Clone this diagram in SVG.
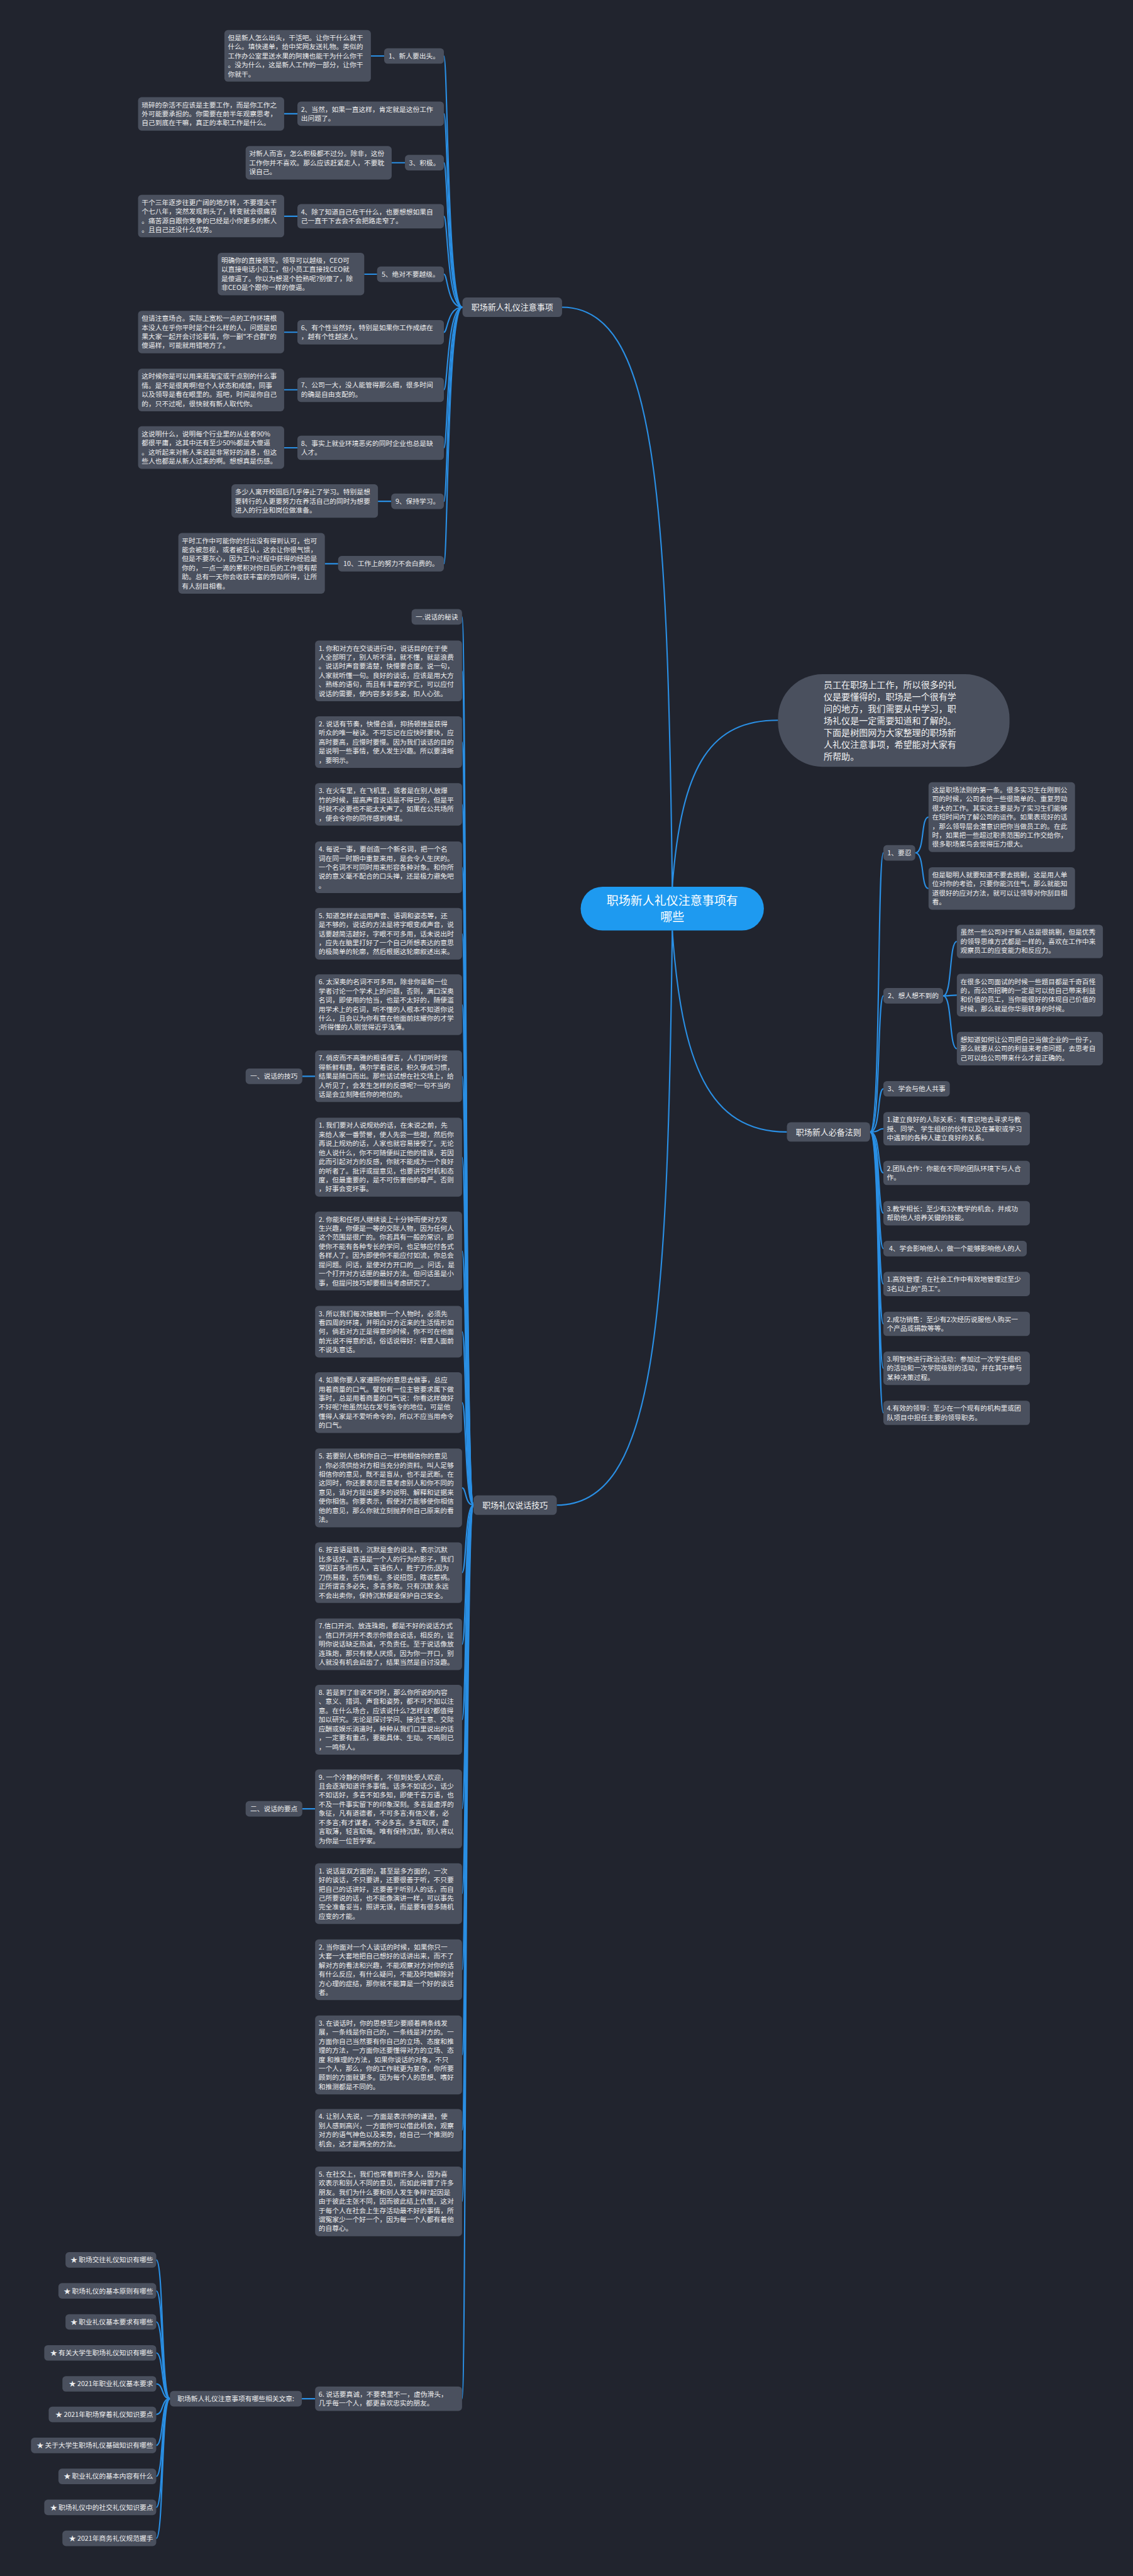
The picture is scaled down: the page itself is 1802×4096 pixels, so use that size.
<svg xmlns="http://www.w3.org/2000/svg" width="1802" height="4096" viewBox="0 0 1802 4096">
<defs>
<style>
.bg{fill:#21242e}
.b{fill:#4a505e}
.t{font-family:"Noto Sans CJK SC","Noto Sans",sans-serif;font-size:15.3px;fill:#eeeeee}
.m{text-anchor:middle}
.e{text-anchor:end}
.p{font-family:"Noto Sans CJK SC","Noto Sans",sans-serif;font-size:18.5px;fill:#f2f2f2;text-anchor:middle}
.c{fill:none;stroke:#2a8fe4;stroke-width:3}
</style>
</defs>
<rect class="bg" x="0" y="0" width="1802" height="4096"/>
<g transform="scale(0.7039)">
<g id="connectors">
<path class="c" d="M1519,2003 C1508,1100 1480,694 1270,694"/>
<path class="c" d="M1519,2003 C1540,1720 1610,1627 1758,1627"/>
<path class="c" d="M1519,2102 C1540,2400 1600,2557 1778,2557"/>
<path class="c" d="M1519,2102 C1508,3000 1480,3400 1258,3400"/>
<path class="c" d="M1045,694 C1010,694 1012,126.5 1003,126.5"/>
<path class="c" d="M1045,694 C1010,694 1012,257 1003,257"/>
<path class="c" d="M1045,694 C1010,694 1012,367.5 1003,367.5"/>
<path class="c" d="M1045,694 C1010,694 1012,488.5 1003,488.5"/>
<path class="c" d="M1045,694 C1010,694 1012,619.5 1003,619.5"/>
<path class="c" d="M1045,694 C1010,694 1012,750.5 1003,750.5"/>
<path class="c" d="M1045,694 C1010,694 1012,880.5 1003,880.5"/>
<path class="c" d="M1045,694 C1010,694 1012,1011.5 1003,1011.5"/>
<path class="c" d="M1045,694 C1010,694 1012,1132.5 1003,1132.5"/>
<path class="c" d="M1045,694 C1010,694 1012,1273.5 1003,1273.5"/>
<path class="c" d="M838,126.5 L868,126.5 M642,257 L672,257 M885,367.5 L915,367.5 M642,488.5 L672,488.5 M823,619.5 L852,619.5 M642,750.5 L672,750.5 M642,880.5 L672,880.5 M642,1011.5 L672,1011.5 M854,1132.5 L884,1132.5 M734,1273.5 L764,1273.5"/>
<path class="c" d="M1966,2557 C1990,2557 1982,1926.5 1996,1926.5"/>
<path class="c" d="M1966,2557 C1990,2557 1982,2249.5 1996,2249.5"/>
<path class="c" d="M1966,2557 C1990,2557 1982,2459.5 1996,2459.5"/>
<path class="c" d="M1966,2557 C1990,2557 1982,2549.75 1996,2549.75"/>
<path class="c" d="M1966,2557 C1990,2557 1982,2649.5 1996,2649.5"/>
<path class="c" d="M1966,2557 C1990,2557 1982,2740.5 1996,2740.5"/>
<path class="c" d="M1966,2557 C1990,2557 1982,2820.5 1996,2820.5"/>
<path class="c" d="M1966,2557 C1990,2557 1982,2900.5 1996,2900.5"/>
<path class="c" d="M1966,2557 C1990,2557 1982,2990.5 1996,2990.5"/>
<path class="c" d="M1966,2557 C1990,2557 1982,3090.75 1996,3090.75"/>
<path class="c" d="M1966,2557 C1990,2557 1982,3191.5 1996,3191.5"/>
<path class="c" d="M2068,1926.5 C2090,1926.5 2080,1845.75 2098,1845.75"/>
<path class="c" d="M2068,1926.5 C2090,1926.5 2080,2007 2098,2007"/>
<path class="c" d="M2131,2249.5 C2152,2249.5 2144,2126.75 2162,2126.75"/>
<path class="c" d="M2131,2249.5 C2152,2249.5 2144,2248 2162,2248"/>
<path class="c" d="M2131,2249.5 C2152,2249.5 2144,2368.75 2162,2368.75"/>
<path class="c" d="M1070,3400 C1050,3400 1054,1393.5 1044,1393.5"/>
<path class="c" d="M1070,3400 C1050,3400 1054,1515.5 1044,1515.5"/>
<path class="c" d="M1070,3400 C1050,3400 1054,1676.25 1044,1676.25"/>
<path class="c" d="M1070,3400 C1050,3400 1054,1817 1044,1817"/>
<path class="c" d="M1070,3400 C1050,3400 1054,1959.25 1044,1959.25"/>
<path class="c" d="M1070,3400 C1050,3400 1054,2109.25 1044,2109.25"/>
<path class="c" d="M1070,3400 C1050,3400 1054,2269.5 1044,2269.5"/>
<path class="c" d="M1070,3400 C1050,3400 1054,2431.25 1044,2431.25"/>
<path class="c" d="M1070,3400 C1050,3400 1054,2614 1044,2614"/>
<path class="c" d="M1070,3400 C1050,3400 1054,2826 1044,2826"/>
<path class="c" d="M1070,3400 C1050,3400 1054,3008.25 1044,3008.25"/>
<path class="c" d="M1070,3400 C1050,3400 1054,3168.5 1044,3168.5"/>
<path class="c" d="M1070,3400 C1050,3400 1054,3361 1044,3361"/>
<path class="c" d="M1070,3400 C1050,3400 1054,3552.5 1044,3552.5"/>
<path class="c" d="M1070,3400 C1050,3400 1054,3714.25 1044,3714.25"/>
<path class="c" d="M1070,3400 C1050,3400 1054,3884.75 1044,3884.75"/>
<path class="c" d="M1070,3400 C1050,3400 1054,4086 1044,4086"/>
<path class="c" d="M1070,3400 C1050,3400 1054,4277.5 1044,4277.5"/>
<path class="c" d="M1070,3400 C1050,3400 1054,4449.5 1044,4449.5"/>
<path class="c" d="M1070,3400 C1050,3400 1054,4642 1044,4642"/>
<path class="c" d="M1070,3400 C1050,3400 1054,4812 1044,4812"/>
<path class="c" d="M1070,3400 C1050,3400 1054,4972.75 1044,4972.75"/>
<path class="c" d="M1070,3400 C1050,3400 1054,5418.5 1044,5418.5"/>
<path class="c" d="M683,2431.25 L712,2431.25 M683,4086 L712,4086 M682,5418.5 L712,5418.5"/>
<path class="c" d="M384,5418.5 C364,5418.5 370,5105 353,5105"/>
<path class="c" d="M384,5418.5 C364,5418.5 370,5175 353,5175"/>
<path class="c" d="M384,5418.5 C364,5418.5 370,5245 353,5245"/>
<path class="c" d="M384,5418.5 C364,5418.5 370,5315 353,5315"/>
<path class="c" d="M384,5418.5 C364,5418.5 370,5385 353,5385"/>
<path class="c" d="M384,5418.5 C364,5418.5 370,5454 353,5454"/>
<path class="c" d="M384,5418.5 C364,5418.5 370,5524 353,5524"/>
<path class="c" d="M384,5418.5 C364,5418.5 370,5594 353,5594"/>
<path class="c" d="M384,5418.5 C364,5418.5 370,5664 353,5664"/>
<path class="c" d="M384,5418.5 C364,5418.5 370,5734 353,5734"/>
</g>

<g id="n-root"><rect x="1312" y="2003" width="414" height="99" rx="49.5" fill="#1e9af0"/><text x="1519" y="2044" font-family="Noto Sans CJK SC, Noto Sans, sans-serif" font-size="27" fill="#ffffff" text-anchor="middle"><tspan x="1519" y="2044">职场新人礼仪注意事项有</tspan><tspan x="1519" y="2081">哪些</tspan></text></g>

<g id="n-intro"><rect class="b" x="1758" y="1523" width="523" height="209" rx="100"/><text x="1861" y="1553.5" font-family="Noto Sans CJK SC, Noto Sans, sans-serif" font-size="20" fill="#f2f2f2"><tspan x="1861" y="1553.5">员工在职场上工作，所以很多的礼</tspan><tspan x="1861" dy="27.2">仪是要懂得的，职场是一个很有学</tspan><tspan x="1861" dy="27.2">问的地方，我们需要从中学习，职</tspan><tspan x="1861" dy="27.2">场礼仪是一定需要知道和了解的。</tspan><tspan x="1861" dy="27.2">下面是树图网为大家整理的职场新</tspan><tspan x="1861" dy="27.2">人礼仪注意事项，希望能对大家有</tspan><tspan x="1861" dy="27.2">所帮助。</tspan></text></g>

<g id="n-top"><rect class="b" x="1045" y="672" width="225" height="44" rx="9"/><text class="p" x="1157.5" y="701">职场新人礼仪注意事项</text></g>
<g id="n-talk"><rect class="b" x="1070" y="3378" width="188" height="44" rx="9"/><text class="p" x="1164" y="3407">职场礼仪说话技巧</text></g>
<g id="n-rules"><rect class="b" x="1778" y="2535" width="188" height="44" rx="9"/><text class="p" x="1872" y="2564">职场新人必备法则</text></g>

<g id="n-t1"><rect class="b" x="507" y="68" width="331" height="116.5" rx="8"/><text class="t"><tspan x="515" y="90.75">但是新人怎么出头，干活吧。让你干什么就干</tspan><tspan x="515" dy="20.5">什么。填快递单，给中奖网友送礼物。类似的</tspan><tspan x="515" dy="20.5">工作办公室里送水果的阿姨也能干为什么你干</tspan><tspan x="515" dy="20.5">。没为什么，这是新人工作的一部分，让你干</tspan><tspan x="515" dy="20.5">你就干。</tspan></text></g>
<g id="n-l1"><rect class="b" x="868" y="109" width="135" height="35" rx="8"/><text class="t m" x="935.5" y="132">1、新人要出头。</text></g>
<g id="n-t2"><rect class="b" x="312" y="219.5" width="330" height="75.5" rx="8"/><text class="t"><tspan x="320" y="242.25">琐碎的杂活不应该是主要工作，而是你工作之</tspan><tspan x="320" dy="20.5">外可能要承担的。你需要在前半年观察思考，</tspan><tspan x="320" dy="20.5">自己到底在干嘛，真正的本职工作是什么。</tspan></text></g>
<g id="n-l2"><rect class="b" x="672" y="229.5" width="331" height="55" rx="8"/><text class="t"><tspan x="680" y="252.25">2、当然，如果一直这样，肯定就是这份工作</tspan><tspan x="680" dy="20.5">出问题了。</tspan></text></g>
<g id="n-t3"><rect class="b" x="555" y="330" width="330" height="75.5" rx="8"/><text class="t"><tspan x="563" y="352.75">对新人而言，怎么积极都不过分。除非，这份</tspan><tspan x="563" dy="20.5">工作你并不喜欢。那么应该赶紧走人，不要耽</tspan><tspan x="563" dy="20.5">误自己。</tspan></text></g>
<g id="n-l3"><rect class="b" x="915" y="350" width="88" height="35" rx="8"/><text class="t m" x="959" y="373">3、积极。</text></g>
<g id="n-t4"><rect class="b" x="312" y="440" width="330" height="96" rx="8"/><text class="t"><tspan x="320" y="462.75">干个三年逐步往更广阔的地方转，不要埋头干</tspan><tspan x="320" dy="20.5">个七八年，突然发现到头了，转变就会很痛苦</tspan><tspan x="320" dy="20.5">。痛苦源自跟你竞争的已经是小你更多的新人</tspan><tspan x="320" dy="20.5">。且自己还没什么优势。</tspan></text></g>
<g id="n-l4"><rect class="b" x="672" y="461" width="331" height="55" rx="8"/><text class="t"><tspan x="680" y="483.75">4、除了知道自己在干什么，也要想想如果自</tspan><tspan x="680" dy="20.5">己一直干下去会不会把路走窄了。</tspan></text></g>
<g id="n-t5"><rect class="b" x="492" y="571" width="331" height="96" rx="8"/><text class="t"><tspan x="500" y="593.75">明确你的直接领导。领导可以越级，CEO可</tspan><tspan x="500" dy="20.5">以直接电话小员工，但小员工直接找CEO就</tspan><tspan x="500" dy="20.5">是傻逼了。你以为想混个脸熟呢?别傻了，除</tspan><tspan x="500" dy="20.5">非CEO是个跟你一样的傻逼。</tspan></text></g>
<g id="n-l5"><rect class="b" x="852" y="602" width="151" height="35" rx="8"/><text class="t m" x="927.5" y="625">5、绝对不要越级。</text></g>
<g id="n-t6"><rect class="b" x="312" y="702" width="330" height="96" rx="8"/><text class="t"><tspan x="320" y="724.75">但请注意场合。实际上宽松一点的工作环境根</tspan><tspan x="320" dy="20.5">本没人在乎你平时是个什么样的人，问题是如</tspan><tspan x="320" dy="20.5">果大家一起开会讨论事情，你一副"不合群"的</tspan><tspan x="320" dy="20.5">傻逼样，可能就用错地方了。</tspan></text></g>
<g id="n-l6"><rect class="b" x="672" y="723" width="331" height="55" rx="8"/><text class="t"><tspan x="680" y="745.75">6、有个性当然好，特别是如果你工作成绩在</tspan><tspan x="680" dy="20.5">，越有个性越迷人。</tspan></text></g>
<g id="n-t7"><rect class="b" x="312" y="833" width="330" height="96" rx="8"/><text class="t"><tspan x="320" y="855.75">这时候你是可以用来逛淘宝或干点别的什么事</tspan><tspan x="320" dy="20.5">情。是不是很爽啊!但个人状态和成绩，同事</tspan><tspan x="320" dy="20.5">以及领导是看在眼里的。逛吧，时间是你自己</tspan><tspan x="320" dy="20.5">的，只不过呢，很快就有新人取代你。</tspan></text></g>
<g id="n-l7"><rect class="b" x="672" y="853" width="331" height="55" rx="8"/><text class="t"><tspan x="680" y="875.75">7、公司一大，没人能管得那么细，很多时间</tspan><tspan x="680" dy="20.5">的确是自由支配的。</tspan></text></g>
<g id="n-t8"><rect class="b" x="312" y="963" width="330" height="96" rx="8"/><text class="t"><tspan x="320" y="985.75">这说明什么，说明每个行业里的从业者90%</tspan><tspan x="320" dy="20.5">都很平庸，这其中还有至少50%都是大傻逼</tspan><tspan x="320" dy="20.5">。这听起来对新人来说是非常好的消息，但这</tspan><tspan x="320" dy="20.5">些人也都是从新人过来的啊。想想真是伤感。</tspan></text></g>
<g id="n-l8"><rect class="b" x="672" y="984" width="331" height="55" rx="8"/><text class="t"><tspan x="680" y="1006.75">8、事实上就业环境恶劣的同时企业也总是缺</tspan><tspan x="680" dy="20.5">人才。</tspan></text></g>
<g id="n-t9"><rect class="b" x="523" y="1094" width="331" height="75.5" rx="8"/><text class="t"><tspan x="531" y="1116.75">多少人离开校园后几乎停止了学习。特别是想</tspan><tspan x="531" dy="20.5">要转行的人更要努力在养活自己的同时为想要</tspan><tspan x="531" dy="20.5">进入的行业和岗位做准备。</tspan></text></g>
<g id="n-l9"><rect class="b" x="884" y="1115" width="119" height="35" rx="8"/><text class="t m" x="943.5" y="1138">9、保持学习。</text></g>
<g id="n-t10"><rect class="b" x="403" y="1204" width="331" height="137" rx="8"/><text class="t"><tspan x="411" y="1226.75">平时工作中可能你的付出没有得到认可，也可</tspan><tspan x="411" dy="20.5">能会被忽视，或者被否认，这会让你很气馈，</tspan><tspan x="411" dy="20.5">但是不要灰心，因为工作过程中获得的经验是</tspan><tspan x="411" dy="20.5">你的，一点一滴的累积对你日后的工作很有帮</tspan><tspan x="411" dy="20.5">助。总有一天你会收获丰富的劳动所得，让所</tspan><tspan x="411" dy="20.5">有人刮目相看。</tspan></text></g>
<g id="n-l10"><rect class="b" x="764" y="1256" width="239" height="35" rx="8"/><text class="t m" x="883.5" y="1279">10、工作上的努力不会白费的。</text></g>

<g id="n-r1"><rect class="b" x="1996" y="1909" width="72" height="35" rx="8"/><text class="t m" x="2032" y="1932">1、要忍</text></g>
<g id="n-r1a"><rect class="b" x="2098" y="1767" width="331" height="157.5" rx="8"/><text class="t"><tspan x="2106" y="1789.75">这是职场法则的第一条。很多实习生在刚到公</tspan><tspan x="2106" dy="20.5">司的时候，公司会给一些很简单的、重复劳动</tspan><tspan x="2106" dy="20.5">很大的工作。其实这主要是为了实习生们能够</tspan><tspan x="2106" dy="20.5">在短时间内了解公司的运作。如果表现好的话</tspan><tspan x="2106" dy="20.5">，那么领导层会潜意识把你当做员工的。在此</tspan><tspan x="2106" dy="20.5">时，如果把一些超过职责范围的工作交给你，</tspan><tspan x="2106" dy="20.5">很多职场菜鸟会觉得压力很大。</tspan></text></g>
<g id="n-r1b"><rect class="b" x="2098" y="1959" width="331" height="96" rx="8"/><text class="t"><tspan x="2106" y="1981.75">但是聪明人就要知道不要去挑剔，这是用人单</tspan><tspan x="2106" dy="20.5">位对你的考验，只要你能沉住气，那么就能知</tspan><tspan x="2106" dy="20.5">道很好的应对方法，就可以让领导对你刮目相</tspan><tspan x="2106" dy="20.5">看。</tspan></text></g>
<g id="n-r2"><rect class="b" x="1996" y="2232" width="135" height="35" rx="8"/><text class="t m" x="2063.5" y="2255">2、想人想不到的</text></g>
<g id="n-r2a"><rect class="b" x="2162" y="2089" width="330" height="75.5" rx="8"/><text class="t"><tspan x="2170" y="2111.75">虽然一些公司对于新人总是很挑剔，但是优秀</tspan><tspan x="2170" dy="20.5">的领导思维方式都是一样的，喜欢在工作中来</tspan><tspan x="2170" dy="20.5">观察员工的应变能力和反应力。</tspan></text></g>
<g id="n-r2b"><rect class="b" x="2162" y="2200" width="330" height="96" rx="8"/><text class="t"><tspan x="2170" y="2222.75">在很多公司面试的时候一些题目都是千奇百怪</tspan><tspan x="2170" dy="20.5">的，而公司招聘的一定是可以给自己带来利益</tspan><tspan x="2170" dy="20.5">和价值的员工，当你能很好的体现自己价值的</tspan><tspan x="2170" dy="20.5">时候，那么就是你华丽转身的时候。</tspan></text></g>
<g id="n-r2c"><rect class="b" x="2162" y="2331" width="330" height="75.5" rx="8"/><text class="t"><tspan x="2170" y="2353.75">想知道如何让公司把自己当做企业的一份子，</tspan><tspan x="2170" dy="20.5">那么就要从公司的利益来考虑问题，去思考自</tspan><tspan x="2170" dy="20.5">己可以给公司带来什么才是正确的。</tspan></text></g>
<g id="n-r3"><rect class="b" x="1996" y="2442" width="150" height="35" rx="8"/><text class="t m" x="2071" y="2465">3、学会与他人共事</text></g>
<g id="n-r4"><rect class="b" x="1996" y="2512" width="331" height="75.5" rx="8"/><text class="t"><tspan x="2004" y="2534.75">1.建立良好的人际关系：有意识地去寻求与教</tspan><tspan x="2004" dy="20.5">授、同学、学生组织的伙伴以及在兼职或学习</tspan><tspan x="2004" dy="20.5">中遇到的各种人建立良好的关系。</tspan></text></g>
<g id="n-r5"><rect class="b" x="1996" y="2622" width="331" height="55" rx="8"/><text class="t"><tspan x="2004" y="2644.75">2.团队合作：你能在不同的团队环境下与人合</tspan><tspan x="2004" dy="20.5">作。</tspan></text></g>
<g id="n-r6"><rect class="b" x="1996" y="2713" width="331" height="55" rx="8"/><text class="t"><tspan x="2004" y="2735.75">3.教学相长：至少有3次教学的机会，并成功</tspan><tspan x="2004" dy="20.5">帮助他人培养关键的技能。</tspan></text></g>
<g id="n-r7"><rect class="b" x="1996" y="2803" width="324" height="35" rx="8"/><text class="t m" x="2158" y="2826">4、学会影响他人，做一个能够影响他人的人</text></g>
<g id="n-r8"><rect class="b" x="1996" y="2873" width="331" height="55" rx="8"/><text class="t"><tspan x="2004" y="2895.75">1.高效管理：在社会工作中有效地管理过至少</tspan><tspan x="2004" dy="20.5">3名以上的"员工"。</tspan></text></g>
<g id="n-r9"><rect class="b" x="1996" y="2963" width="331" height="55" rx="8"/><text class="t"><tspan x="2004" y="2985.75">2.成功销售：至少有2次经历说服他人购买一</tspan><tspan x="2004" dy="20.5">个产品或捐款等等。</tspan></text></g>
<g id="n-r10"><rect class="b" x="1996" y="3053" width="331" height="75.5" rx="8"/><text class="t"><tspan x="2004" y="3075.75">3.明智地进行政治活动：参加过一次学生组织</tspan><tspan x="2004" dy="20.5">的活动和一次学院级别的活动，并在其中参与</tspan><tspan x="2004" dy="20.5">某种决策过程。</tspan></text></g>
<g id="n-r11"><rect class="b" x="1996" y="3164" width="331" height="55" rx="8"/><text class="t"><tspan x="2004" y="3186.75">4.有效的领导：至少在一个现有的机构里或团</tspan><tspan x="2004" dy="20.5">队项目中担任主要的领导职务。</tspan></text></g>

<g id="n-h0"><rect class="b" x="930" y="1376" width="114" height="35" rx="8"/><text class="t m" x="987" y="1399">一.说话的秘诀</text></g>
<g id="n-a1"><rect class="b" x="712" y="1447" width="332" height="137" rx="8"/><text class="t"><tspan x="720" y="1469.75">1. 你和对方在交谈进行中，说话目的在于使</tspan><tspan x="720" dy="20.5">人全部明了，别人听不清，就不懂，就是浪费</tspan><tspan x="720" dy="20.5">。说话时声音要清楚，快慢要合度。说一句，</tspan><tspan x="720" dy="20.5">人家就听懂一句。良好的谈话，应该是用大方</tspan><tspan x="720" dy="20.5">、熟练的语句，而且有丰富的字汇，可以应付</tspan><tspan x="720" dy="20.5">说话的需要，使内容多彩多姿，扣人心弦。</tspan></text></g>
<g id="n-a2"><rect class="b" x="712" y="1618" width="332" height="116.5" rx="8"/><text class="t"><tspan x="720" y="1640.75">2. 说话有节奏，快慢合适，抑扬顿挫是获得</tspan><tspan x="720" dy="20.5">听众的唯一秘诀。不可忘记在应快时要快，应</tspan><tspan x="720" dy="20.5">高时要高，应慢时要慢。因为我们谈话的目的</tspan><tspan x="720" dy="20.5">是说明一些事情，使人发生兴趣。所以要清晰</tspan><tspan x="720" dy="20.5">，要明示。</tspan></text></g>
<g id="n-a3"><rect class="b" x="712" y="1769" width="332" height="96" rx="8"/><text class="t"><tspan x="720" y="1791.75">3. 在火车里，在飞机里，或者是在别人放爆</tspan><tspan x="720" dy="20.5">竹的时候，提高声音说话是不得已的，但是平</tspan><tspan x="720" dy="20.5">时就不必要也不能太大声了。如果在公共场所</tspan><tspan x="720" dy="20.5">，便会令你的同伴感到难堪。</tspan></text></g>
<g id="n-a4"><rect class="b" x="712" y="1901" width="332" height="116.5" rx="8"/><text class="t"><tspan x="720" y="1923.75">4. 每说一事，要创造一个新名词，把一个名</tspan><tspan x="720" dy="20.5">词在同一时期中重复来用，是会令人生厌的。</tspan><tspan x="720" dy="20.5">一个名词不可同时用来形容各种对象。和你所</tspan><tspan x="720" dy="20.5">说的意义毫不配合的口头禅，还是极力避免吧</tspan><tspan x="720" dy="20.5">。</tspan></text></g>
<g id="n-a5"><rect class="b" x="712" y="2051" width="332" height="116.5" rx="8"/><text class="t"><tspan x="720" y="2073.75">5. 知道怎样去运用声音、语调和姿态等，还</tspan><tspan x="720" dy="20.5">是不够的，说话的方法是将字眼变成声音，说</tspan><tspan x="720" dy="20.5">话要越简洁越好，字眼不可多用，话未说出时</tspan><tspan x="720" dy="20.5">，应先在脑里打好了一个自己所想表达的意思</tspan><tspan x="720" dy="20.5">的极简单的轮廓，然后根据这轮廓叙述出来。</tspan></text></g>
<g id="n-a6"><rect class="b" x="712" y="2201" width="332" height="137" rx="8"/><text class="t"><tspan x="720" y="2223.75">6. 太深奥的名词不可多用，除非你是和一位</tspan><tspan x="720" dy="20.5">学者讨论一个学术上的问题，否则，满口深奥</tspan><tspan x="720" dy="20.5">名词，即使用的恰当，也是不太好的，随便滥</tspan><tspan x="720" dy="20.5">用学术上的名词，听不懂的人根本不知道你说</tspan><tspan x="720" dy="20.5">什么，且会以为你有意在他面前炫耀你的才学</tspan><tspan x="720" dy="20.5">;听得懂的人则觉得近乎浅薄。</tspan></text></g>
<g id="n-a7"><rect class="b" x="712" y="2373" width="332" height="116.5" rx="8"/><text class="t"><tspan x="720" y="2395.75">7. 俏皮而不高雅的粗语俚言，人们初听时觉</tspan><tspan x="720" dy="20.5">得新鲜有趣，偶尔学着说说，积久便成习惯，</tspan><tspan x="720" dy="20.5">结果是随口而出。那些话试想在社交场上，给</tspan><tspan x="720" dy="20.5">人听见了，会发生怎样的反感呢?一句不当的</tspan><tspan x="720" dy="20.5">话是会立刻降低你的地位的。</tspan></text></g>
<g id="n-lab1"><rect class="b" x="555" y="2413.75" width="128" height="35" rx="8"/><text class="t m" x="619" y="2436.75">一、说话的技巧</text></g>
<g id="n-b1"><rect class="b" x="712" y="2525" width="332" height="178" rx="8"/><text class="t"><tspan x="720" y="2547.75">1. 我们要对人说规劝的话，在未说之前，先</tspan><tspan x="720" dy="20.5">来给人家一番赞誉，使人先尝一些甜，然后你</tspan><tspan x="720" dy="20.5">再说上规劝的话，人家也就容易接受了。无论</tspan><tspan x="720" dy="20.5">他人说什么，你不可随便纠正他的错误，若因</tspan><tspan x="720" dy="20.5">此而引起对方的反感，你就不能成为一个良好</tspan><tspan x="720" dy="20.5">的听者了。批评或提意见，也要讲究时机和态</tspan><tspan x="720" dy="20.5">度，但最重要的，是不可伤害他的尊严。否则</tspan><tspan x="720" dy="20.5">，好事会变坏事。</tspan></text></g>
<g id="n-b2"><rect class="b" x="712" y="2737" width="332" height="178" rx="8"/><text class="t"><tspan x="720" y="2759.75">2. 你能和任何人继续谈上十分钟而使对方发</tspan><tspan x="720" dy="20.5">生兴趣，你便是一等的交际人物，因为任何人</tspan><tspan x="720" dy="20.5">这个范围是很广的。你若具有一般的常识，即</tspan><tspan x="720" dy="20.5">使你不能有各种专长的学问，也足够应付各式</tspan><tspan x="720" dy="20.5">各样人了。因为即使你不能应付如流，你总会</tspan><tspan x="720" dy="20.5">提问题。问话，是使对方开口的__。问话，是</tspan><tspan x="720" dy="20.5">一个打开对方话匣的最好方法。但问话虽是小</tspan><tspan x="720" dy="20.5">事，但提问技巧却要相当考虑研究了。</tspan></text></g>
<g id="n-b3"><rect class="b" x="712" y="2950" width="332" height="116.5" rx="8"/><text class="t"><tspan x="720" y="2972.75">3. 所以我们每次接触到一个人物时，必须先</tspan><tspan x="720" dy="20.5">看四周的环境，并明白对方近来的生活情形如</tspan><tspan x="720" dy="20.5">何，倘若对方正是得意的时候，你不可在他面</tspan><tspan x="720" dy="20.5">前光说不得意的话，俗话说得好：得意人面前</tspan><tspan x="720" dy="20.5">不说失意话。</tspan></text></g>
<g id="n-b4"><rect class="b" x="712" y="3100" width="332" height="137" rx="8"/><text class="t"><tspan x="720" y="3122.75">4. 如果你要人家遵照你的意思去做事，总应</tspan><tspan x="720" dy="20.5">用着商量的口气。譬如有一位主管要求属下做</tspan><tspan x="720" dy="20.5">事时，总是用着商量的口气说：你看这样做好</tspan><tspan x="720" dy="20.5">不好呢?他虽然站在发号施令的地位，可是他</tspan><tspan x="720" dy="20.5">懂得人家是不爱听命令的，所以不应当用命令</tspan><tspan x="720" dy="20.5">的口气。</tspan></text></g>
<g id="n-b5"><rect class="b" x="712" y="3272" width="332" height="178" rx="8"/><text class="t"><tspan x="720" y="3294.75">5. 若要别人也和你自己一样地相信你的意见</tspan><tspan x="720" dy="20.5">，你必须供给对方相当充分的资料。叫人足够</tspan><tspan x="720" dy="20.5">相信你的意见，既不是盲从，也不是武断。在</tspan><tspan x="720" dy="20.5">这同时，你还要表示愿意考虑别人和你不同的</tspan><tspan x="720" dy="20.5">意见，请对方提出更多的说明、解释和证据来</tspan><tspan x="720" dy="20.5">使你相信。你要表示，假使对方能够使你相信</tspan><tspan x="720" dy="20.5">他的意见，那么你就立刻抛弃你自己原来的看</tspan><tspan x="720" dy="20.5">法。</tspan></text></g>
<g id="n-b6"><rect class="b" x="712" y="3484" width="332" height="137" rx="8"/><text class="t"><tspan x="720" y="3506.75">6. 按言语是铁，沉默是金的说法，表示沉默</tspan><tspan x="720" dy="20.5">比多话好。言语是一个人的行为的影子，我们</tspan><tspan x="720" dy="20.5">常因言多而伤人，言语伤人，胜于刀伤;因为</tspan><tspan x="720" dy="20.5">刀伤易痊，舌伤难愈。多说招怨，瞎说惹祸。</tspan><tspan x="720" dy="20.5">正所谓言多必失，多言多败。只有沉默 永远</tspan><tspan x="720" dy="20.5">不会出卖你，保持沉默便是保护自己安全。</tspan></text></g>
<g id="n-b7"><rect class="b" x="712" y="3656" width="332" height="116.5" rx="8"/><text class="t"><tspan x="720" y="3678.75">7.信口开河、放连珠炮，都是不好的说话方式</tspan><tspan x="720" dy="20.5">。信口开河并不表示你很会说话，相反的，证</tspan><tspan x="720" dy="20.5">明你说话缺乏热诚，不负责任。至于说话像放</tspan><tspan x="720" dy="20.5">连珠炮，那只有使人厌烦，因为你一开口，别</tspan><tspan x="720" dy="20.5">人就没有机会启齿了，结果当然是自讨没趣。</tspan></text></g>
<g id="n-b8"><rect class="b" x="712" y="3806" width="332" height="157.5" rx="8"/><text class="t"><tspan x="720" y="3828.75">8. 若是到了非说不可时，那么你所说的内容</tspan><tspan x="720" dy="20.5">、意义、措词、声音和姿势，都不可不加以注</tspan><tspan x="720" dy="20.5">意。在什么场合，应该说什么?怎样说?都值得</tspan><tspan x="720" dy="20.5">加以研究。无论是探讨学问、接洽生意、交际</tspan><tspan x="720" dy="20.5">应酬或娱乐消遣时，种种从我们口里说出的话</tspan><tspan x="720" dy="20.5">，一定要有重点，要能具体、生动。不鸣则已</tspan><tspan x="720" dy="20.5">，一鸣惊人。</tspan></text></g>
<g id="n-b9"><rect class="b" x="712" y="3997" width="332" height="178" rx="8"/><text class="t"><tspan x="720" y="4019.75">9. 一个冷静的倾听者，不但到处受人欢迎，</tspan><tspan x="720" dy="20.5">且会逐渐知道许多事情。话多不如话少，话少</tspan><tspan x="720" dy="20.5">不如话好，多言不如多知，即使千言万语，也</tspan><tspan x="720" dy="20.5">不及一件事实留下的印象深刻。多言是虚浮的</tspan><tspan x="720" dy="20.5">象征，凡有道德者，不可多言;有信义者，必</tspan><tspan x="720" dy="20.5">不多言;有才谋者，不必多言。多言取厌，虚</tspan><tspan x="720" dy="20.5">言取薄，轻言取侮。唯有保持沉默，别人将以</tspan><tspan x="720" dy="20.5">为你是一位哲学家。</tspan></text></g>
<g id="n-lab2"><rect class="b" x="555" y="4068.5" width="128" height="35" rx="8"/><text class="t m" x="619" y="4091.5">二、说话的要点</text></g>
<g id="n-c1"><rect class="b" x="712" y="4209" width="332" height="137" rx="8"/><text class="t"><tspan x="720" y="4231.75">1. 说话是双方面的，甚至是多方面的，一次</tspan><tspan x="720" dy="20.5">好的谈话，不只要讲，还要很善于听，不只要</tspan><tspan x="720" dy="20.5">把自己的话讲好，还要善于听别人的话，而自</tspan><tspan x="720" dy="20.5">己所要说的话，也不能像演讲一样，可以事先</tspan><tspan x="720" dy="20.5">完全准备妥当，照讲无误，而是要有很多随机</tspan><tspan x="720" dy="20.5">应变的才能。</tspan></text></g>
<g id="n-c2"><rect class="b" x="712" y="4381" width="332" height="137" rx="8"/><text class="t"><tspan x="720" y="4403.75">2. 当你面对一个人谈话的时候，如果你只一</tspan><tspan x="720" dy="20.5">大套一大套地把自己想好的话讲出来，而不了</tspan><tspan x="720" dy="20.5">解对方的看法和兴趣，不能观察对方对你的话</tspan><tspan x="720" dy="20.5">有什么反应，有什么疑问，不能及时地解除对</tspan><tspan x="720" dy="20.5">方心理的症结，那你就不能算是一个好的谈话</tspan><tspan x="720" dy="20.5">者。</tspan></text></g>
<g id="n-c3"><rect class="b" x="712" y="4553" width="332" height="178" rx="8"/><text class="t"><tspan x="720" y="4575.75">3. 在谈话时，你的思想至少要顺着两条线发</tspan><tspan x="720" dy="20.5">展，一条线是你自己的，一条线是对方的。一</tspan><tspan x="720" dy="20.5">方面你自己当然要有你自己的立场、态度和推</tspan><tspan x="720" dy="20.5">理的方法，一方面你还要懂得对方的立场、态</tspan><tspan x="720" dy="20.5">度 和推理的方法，如果你谈话的对象，不只</tspan><tspan x="720" dy="20.5">一个人，那么，你的工作就更为复杂，你所要</tspan><tspan x="720" dy="20.5">顾到的方面就更多。因为每个人的思想、嗜好</tspan><tspan x="720" dy="20.5">和推测都是不同的。</tspan></text></g>
<g id="n-c4"><rect class="b" x="712" y="4764" width="332" height="96" rx="8"/><text class="t"><tspan x="720" y="4786.75">4. 让别人先说，一方面是表示你的谦逊，使</tspan><tspan x="720" dy="20.5">别人感到高兴，一方面你可以借此机会，观察</tspan><tspan x="720" dy="20.5">对方的语气神色以及来势，给自己一个推测的</tspan><tspan x="720" dy="20.5">机会，这才是两全的方法。</tspan></text></g>
<g id="n-c5"><rect class="b" x="712" y="4894" width="332" height="157.5" rx="8"/><text class="t"><tspan x="720" y="4916.75">5. 在社交上，我们也常看到许多人，因为喜</tspan><tspan x="720" dy="20.5">欢表示和别人不同的意见，而如此得罪了许多</tspan><tspan x="720" dy="20.5">朋友。我们为什么要和别人发生争辩?起因是</tspan><tspan x="720" dy="20.5">由于彼此主张不同，因而彼此结上仇恨，这对</tspan><tspan x="720" dy="20.5">于每个人在社会上生存活动最不好的事情，所</tspan><tspan x="720" dy="20.5">谓冤家少一个好一个，因为每一个人都有着他</tspan><tspan x="720" dy="20.5">的自尊心。</tspan></text></g>
<g id="n-c6"><rect class="b" x="712" y="5391" width="332" height="55" rx="8"/><text class="t"><tspan x="720" y="5413.75">6. 说话要真诚，不要表里不一，虚伪滑头，</tspan><tspan x="720" dy="20.5">几乎每一个人，都更喜欢忠实的朋友。</tspan></text></g>
<g id="n-rel"><rect class="b" x="384" y="5401" width="298" height="35" rx="8"/><text class="t m" x="533" y="5424">职场新人礼仪注意事项有哪些相关文章:</text></g>

<g id="n-s1"><rect class="b" x="148" y="5087.5" width="205" height="35" rx="8"/><text class="t e" x="346" y="5110.5">★ 职场交往礼仪知识有哪些</text></g>
<g id="n-s2"><rect class="b" x="132" y="5157.5" width="221" height="35" rx="8"/><text class="t e" x="346" y="5180.5">★ 职场礼仪的基本原则有哪些</text></g>
<g id="n-s3"><rect class="b" x="148" y="5227.5" width="205" height="35" rx="8"/><text class="t e" x="346" y="5250.5">★ 职业礼仪基本要求有哪些</text></g>
<g id="n-s4"><rect class="b" x="100" y="5297.5" width="253" height="35" rx="8"/><text class="t e" x="346" y="5320.5">★ 有关大学生职场礼仪知识有哪些</text></g>
<g id="n-s5"><rect class="b" x="141" y="5367.5" width="212" height="35" rx="8"/><text class="t e" x="346" y="5390.5">★ 2021年职业礼仪基本要求</text></g>
<g id="n-s6"><rect class="b" x="110" y="5436.5" width="243" height="35" rx="8"/><text class="t e" x="346" y="5459.5">★ 2021年职场穿着礼仪知识要点</text></g>
<g id="n-s7"><rect class="b" x="70" y="5506.5" width="283" height="35" rx="8"/><text class="t e" x="346" y="5529.5">★ 关于大学生职场礼仪基础知识有哪些</text></g>
<g id="n-s8"><rect class="b" x="132" y="5576.5" width="221" height="35" rx="8"/><text class="t e" x="346" y="5599.5">★ 职业礼仪的基本内容有什么</text></g>
<g id="n-s9"><rect class="b" x="100" y="5646.5" width="253" height="35" rx="8"/><text class="t e" x="346" y="5669.5">★ 职场礼仪中的社交礼仪知识要点</text></g>
<g id="n-s10"><rect class="b" x="141" y="5716.5" width="212" height="35" rx="8"/><text class="t e" x="346" y="5739.5">★ 2021年商务礼仪规范握手</text></g>
</g>
</svg>
